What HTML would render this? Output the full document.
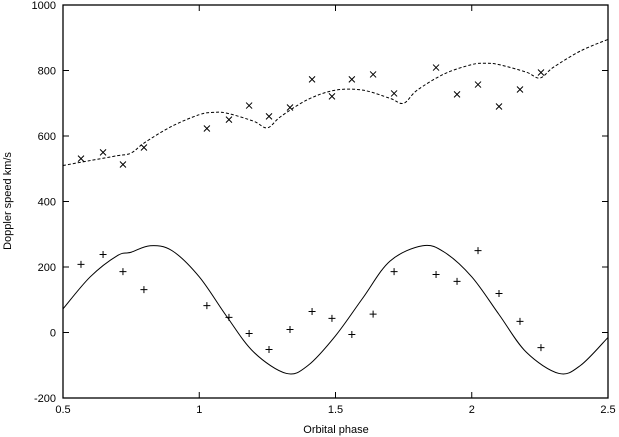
<!DOCTYPE html>
<html><head><meta charset="utf-8"><style>
body{margin:0;background:#fff}
svg{display:block;font-family:"Liberation Sans",sans-serif;font-size:11px}
</style></head><body>
<svg id="chart" width="619" height="437">
<g id="axes"></g><g id="series"></g>
<text x="336" y="433" text-anchor="middle">Orbital phase</text>
<text transform="translate(11,201) rotate(-90)" text-anchor="middle">Doppler speed km/s</text>
</svg>
<script>
const xTicks=[0.5,1,1.5,2,2.5];
const xTickLabels=["0.5","1","1.5","2","2.5"];
const yTicks=[-200,0,200,400,600,800,1000];
const yTickLabels=["-200","0","200","400","600","800","1000"];
const phases=[0.566,0.647,0.72,0.797,1.028,1.109,1.183,1.256,1.333,1.414,1.487,1.56,1.638,1.715,1.869,1.946,2.023,2.1,2.177,2.254];
const plusValues=[208,238,186,131,82,46,-3,-52,9,64,43,-6,56,186,177,156,250,119,34,-46];
const crossValues=[531,550,513,565,623,650,693,660,687,773,721,773,788,730,809,727,757,690,742,794];
const solidPhases=[0.5,0.6,0.7,0.75,0.82,0.9,1.0,1.1,1.2,1.32,1.4,1.5,1.6,1.7,1.82,1.9,2.0,2.1,2.2,2.32,2.4,2.5];
const solidValues=[72,170,235,245,265,250,170,50,-60,-125,-100,-10,105,218,265,245,170,55,-60,-125,-100,-15];
const dashPhases=[0.5,0.6,0.7,0.75,0.8,0.9,1.0,1.05,1.1,1.2,1.25,1.3,1.4,1.5,1.6,1.7,1.75,1.8,1.9,2.0,2.05,2.1,2.2,2.25,2.3,2.4,2.5];
const dashValues=[510,525,540,548,580,630,665,672,670,645,625,660,712,740,740,715,700,740,790,818,822,818,795,777,810,860,895];

const L=63,R=608,T=5,B=398;
const X=v=>L+(v-0.5)/2*(R-L);
const Y=v=>B-(v+200)/1200*(B-T);
const NS="http://www.w3.org/2000/svg";
const axes=document.getElementById('axes'),series=document.getElementById('series');
function mk(tag,attrs,parent){const e=document.createElementNS(NS,tag);for(const k in attrs)e.setAttribute(k,attrs[k]);parent.appendChild(e);return e;}

const frame=mk('rect',{x:L,y:T,width:R-L,height:B-T,fill:'none',stroke:'#000','stroke-width':1.3},axes);


xTicks.forEach((t,i)=>{
  const g=mk('g',{},axes);
  
  
  mk('line',{x1:X(t),x2:X(t),y1:B,y2:B-6,stroke:'#000'},g);
  mk('line',{x1:X(t),x2:X(t),y1:T,y2:T+6,stroke:'#000'},g);
  const tx=mk('text',{x:X(t),y:B+15,'text-anchor':'middle'},g);tx.textContent=xTickLabels[i];
});
yTicks.forEach((t,i)=>{
  const g=mk('g',{},axes);
  
  
  mk('line',{x1:L,x2:L+6,y1:Y(t),y2:Y(t),stroke:'#000'},g);
  mk('line',{x1:R,x2:R-6,y1:Y(t),y2:Y(t),stroke:'#000'},g);
  const tx=mk('text',{x:L-7,y:Y(t)+4,'text-anchor':'end'},g);tx.textContent=yTickLabels[i];
});
function smooth(xs,ys){
  const p=xs.map((x,i)=>[X(x),Y(ys[i])]);
  let d=`M${p[0][0]},${p[0][1]}`;
  for(let i=0;i<p.length-1;i++){
    const p0=p[i-1]||p[i],p1=p[i],p2=p[i+1],p3=p[i+2]||p2;
    const c1=[p1[0]+(p2[0]-p0[0])/6,p1[1]+(p2[1]-p0[1])/6];
    const c2=[p2[0]-(p3[0]-p1[0])/6,p2[1]-(p3[1]-p1[1])/6];
    d+=`C${c1[0]},${c1[1]} ${c2[0]},${c2[1]} ${p2[0]},${p2[1]}`;
  }
  return d;
}
const sl=mk('path',{d:smooth(solidPhases,solidValues),fill:'none',stroke:'#000','stroke-width':1},series);


const dl=mk('path',{d:smooth(dashPhases,dashValues),fill:'none',stroke:'#000','stroke-width':1,'stroke-dasharray':'3,2'},series);


phases.forEach((ph,i)=>{
  const x=X(ph),y=Y(plusValues[i]);
  const p=mk('path',{d:`M${x-3.5},${y}H${x+3.5}M${x},${y-3.5}V${y+3.5}`,stroke:'#000','stroke-width':1},series);
  
  
  const y2=Y(crossValues[i]);
  const c=mk('path',{d:`M${x-3},${y2-3}L${x+3},${y2+3}M${x-3},${y2+3}L${x+3},${y2-3}`,stroke:'#000','stroke-width':1},series);
  
  
});
</script>
</body></html>
